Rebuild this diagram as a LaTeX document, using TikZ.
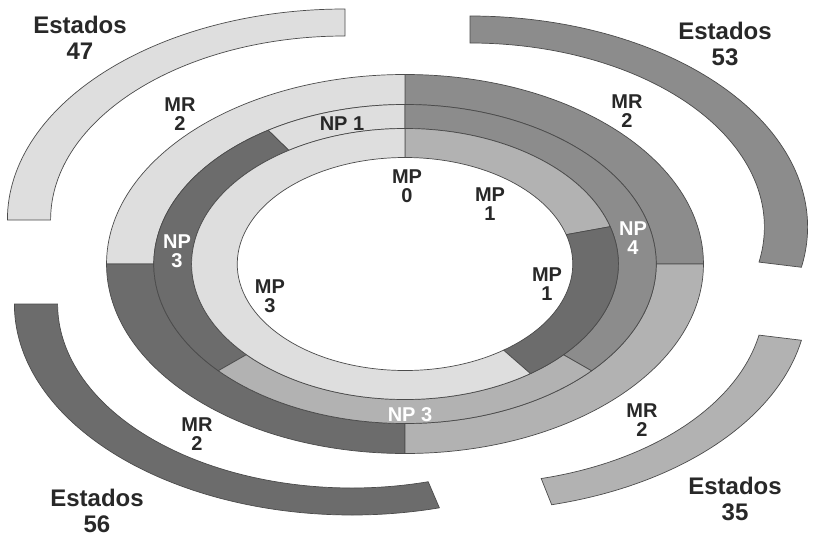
\documentclass[tikz,border=0pt]{standalone}
\usepackage{fontspec}
\setmainfont{Liberation Sans}
\usepackage{tikz}

\definecolor{lightgr}{RGB}{222,222,222}
\definecolor{midlgr}{RGB}{178,178,178}
\definecolor{midgr}{RGB}{140,140,140}
\definecolor{darkgr}{RGB}{108,108,108}
\definecolor{edgegr}{RGB}{75,75,75}
\definecolor{textgr}{RGB}{40,40,40}

\begin{document}
\begin{tikzpicture}[x=1pt,y=1pt,
    seg/.style={draw=edgegr,line width=0.7pt},
    lbl/.style={text=textgr,font=\bfseries\fontsize{20}{19}\selectfont,align=center,inner sep=0pt},
    wlbl/.style={lbl,text=white},
    big/.style={text=textgr,font=\bfseries\fontsize{24}{26}\selectfont,align=center,inner sep=0pt}]
  \useasboundingbox (-405,-272) rectangle (408,264);

  % the three rings
  \begin{scope}[xscale=1.575]
    % MR
    \filldraw[seg,fill=midgr]   (0:189.5) arc (0:90:189.5) -- (90:159.5) arc (90:0:159.5) -- cycle;
    \filldraw[seg,fill=lightgr] (90:189.5) arc (90:180:189.5) -- (180:159.5) arc (180:90:159.5) -- cycle;
    \filldraw[seg,fill=darkgr]  (180:189.5) arc (180:270:189.5) -- (270:159.5) arc (270:180:159.5) -- cycle;
    \filldraw[seg,fill=midlgr]  (270:189.5) arc (270:360:189.5) -- (360:159.5) arc (360:270:159.5) -- cycle;
    % NP
    \filldraw[seg,fill=lightgr] (90:159.5) arc (90:123:159.5) -- (123:135.5) arc (123:90:135.5) -- cycle;
    \filldraw[seg,fill=darkgr]  (123:159.5) arc (123:222:159.5) -- (222:135.5) arc (222:123:135.5) -- cycle;
    \filldraw[seg,fill=midlgr]  (222:159.5) arc (222:318:159.5) -- (318:135.5) arc (318:222:135.5) -- cycle;
    \filldraw[seg,fill=midgr]   (-42:159.5) arc (-42:90:159.5) -- (90:135.5) arc (90:-42:135.5) -- cycle;
    % MP
    \filldraw[seg,fill=midlgr]  (16:135.5) arc (16:90:135.5) -- (90:106.5) arc (90:16:106.5) -- cycle;
    \filldraw[seg,fill=darkgr]  (-54:135.5) arc (-54:16:135.5) -- (16:106.5) arc (16:-54:106.5) -- cycle;
    \filldraw[seg,fill=lightgr] (90:135.5) arc (90:306:135.5) -- (306:106.5) arc (306:90:106.5) -- cycle;
  \end{scope}

  % Estados arcs
  \begin{scope}[shift={(-60,44)},xscale=1.6]
    \filldraw[seg,fill=lightgr] (90:211) arc (90:180:211) -- (180:184) arc (180:90:184) -- cycle;
  \end{scope}
  \begin{scope}[shift={(65,37)},xscale=1.6]
    \filldraw[seg,fill=midgr] (-11:211) arc (-11:90:211) -- (90:184) arc (90:-11:184) -- cycle;
  \end{scope}
  \begin{scope}[shift={(-53,-40)},xscale=1.6]
    \filldraw[seg,fill=darkgr] (180:211) arc (180:285:211) -- (285:184) arc (285:180:184) -- cycle;
  \end{scope}
  \begin{scope}[shift={(65,-36)},xscale=1.6]
    \filldraw[seg,fill=midlgr] (-76:211) arc (-76:-11:211) -- (-11:184) arc (-11:-76:184) -- cycle;
  \end{scope}

  % labels
  \node[big] (est47) at (-325,226) {Estados\\47};
  \node[big] (est53) at (320,220)  {Estados\\53};
  \node[big] (est56) at (-308,-247) {Estados\\56};
  \node[big] (est35) at (330,-235) {Estados\\35};

  \node[lbl] (mrtl) at (-225,150) {MR\\2};
  \node[lbl] (mrtr) at (222,153)  {MR\\2};
  \node[lbl] (mrbl) at (-208,-170) {MR\\2};
  \node[lbl] (mrbr) at (237,-156) {MR\\2};

  \node[lbl]  (np1)  at (-63,140) {NP 1};
  \node[wlbl] (np3l) at (-228,13) {NP\\3};
  \node[wlbl] (np4)  at (228,26)  {NP\\4};
  \node[wlbl] (np3b) at (5,-151)  {NP 3};

  \node[lbl] (mp0)  at (2,78)    {MP\\0};
  \node[lbl] (mp1t) at (85,60)   {MP\\1};
  \node[lbl] (mp1r) at (142,-20) {MP\\1};
  \node[lbl] (mp3)  at (-135,-32) {MP\\3};
\end{tikzpicture}
\end{document}
